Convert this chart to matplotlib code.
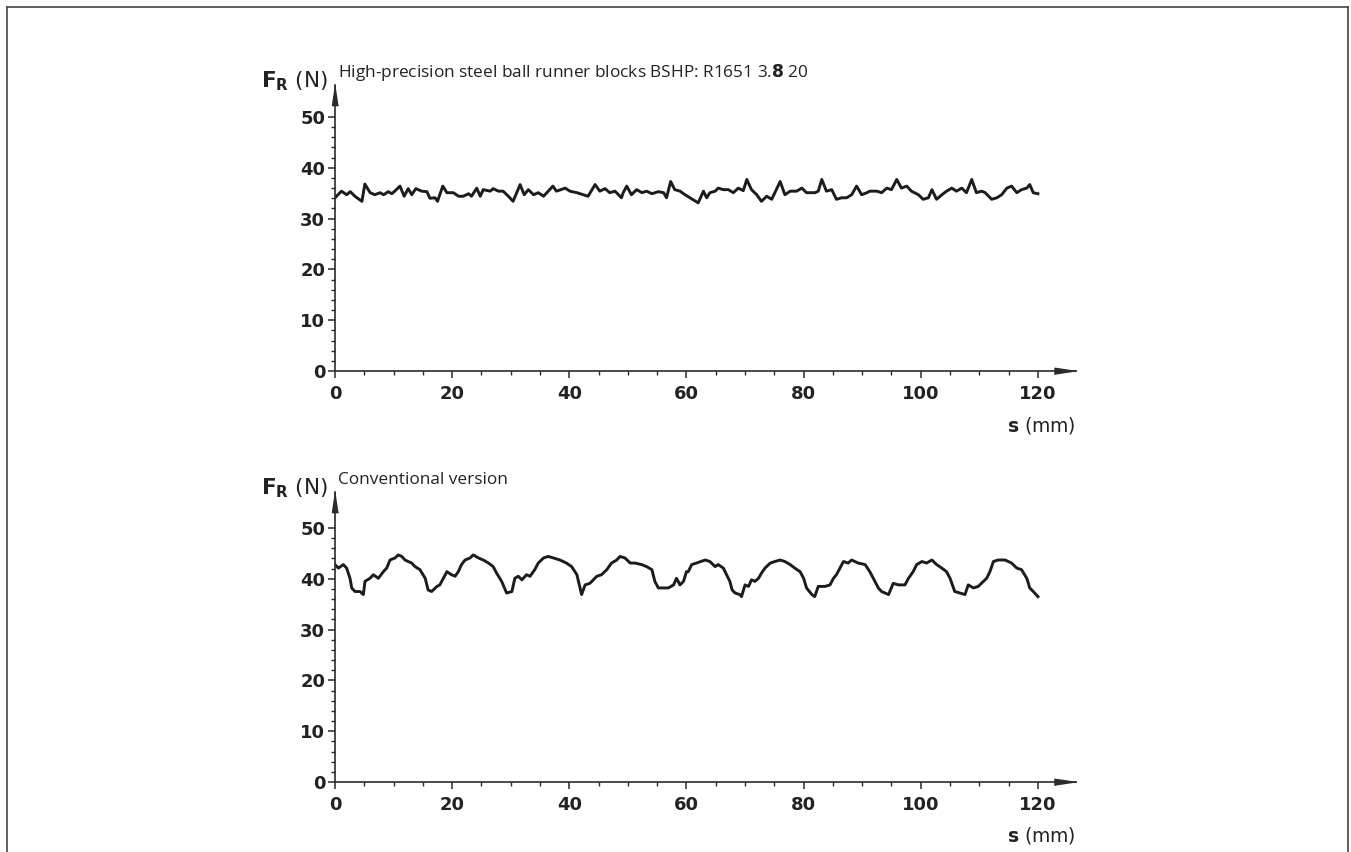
import matplotlib.pyplot as plt
from matplotlib.lines import Line2D
from matplotlib.ticker import FixedLocator

plt.rcParams['font.family'] = ['DejaVu Sans']
plt.rcParams['mathtext.fontset'] = 'dejavusans'

# data (s in mm, F_R in N)
top_s = [0, 1.1, 2.0, 2.6, 3.4, 4.6, 5.1, 6.0, 6.8, 7.7,
         8.3, 9.1, 9.7, 10.2, 11.1, 11.8, 12.5, 13.1, 13.8, 14.8,
         15.7, 16.2, 17.1, 17.5, 18.4, 19.1, 20.2, 21.1, 21.9, 22.8,
         23.3, 24.2, 24.8, 25.3, 26.5, 27.0, 27.9, 28.7, 29.6, 30.4,
         31.6, 32.3, 33.0, 33.9, 34.7, 35.6, 36.4, 37.2, 37.8, 39.3,
         40.1, 41.3, 42.4, 43.2, 44.4, 45.2, 46.1, 46.9, 47.8, 48.9,
         49.2, 49.8, 50.6, 51.5, 52.4, 53.2, 54.1, 55.2, 56.1, 56.6,
         57.3, 58.0, 58.9, 59.75, 60.6, 62.0, 62.9, 63.45, 64.0, 64.9,
         65.4, 66.3, 67.15, 68.0, 68.85, 69.7, 70.3, 71.1, 72.0, 72.8,
         73.7, 74.55, 76.0, 76.8, 77.7, 78.8, 79.7, 80.5, 81.95, 82.5,
         83.1, 83.9, 84.8, 85.6, 86.5, 87.35, 88.2, 89.05, 89.9, 90.8,
         91.3, 92.5, 93.3, 94.2, 95.0, 95.9, 96.7, 97.6, 98.4, 99.6,
         100.4, 101.3, 101.9, 102.7, 103.6, 104.4, 105.3, 106.1, 107.0, 107.8,
         108.7, 109.5, 110.4, 111.0, 112.1, 113.0, 113.8, 114.7, 115.5, 116.4,
         117.2, 118.1, 118.6, 119.2, 120.0]
top_f = [34.1, 35.4, 34.7, 35.3, 34.4, 33.4, 36.8, 35.1, 34.7, 35.1,
         34.7, 35.3, 34.9, 35.4, 36.4, 34.4, 35.9, 34.7, 35.9, 35.4,
         35.3, 34.0, 34.1, 33.4, 36.4, 35.1, 35.1, 34.4, 34.4, 34.9,
         34.4, 36.0, 34.4, 35.7, 35.4, 35.9, 35.4, 35.4, 34.4, 33.4,
         36.7, 34.7, 35.7, 34.7, 35.1, 34.4, 35.4, 36.4, 35.4, 36.0,
         35.4, 35.1, 34.7, 34.4, 36.7, 35.4, 35.9, 35.1, 35.4, 34.1,
         35.1, 36.4, 34.7, 35.7, 35.1, 35.4, 34.9, 35.3, 35.1, 34.1,
         37.3, 35.7, 35.4, 34.7, 34.1, 33.1, 35.4, 34.1, 35.1, 35.4,
         36.0, 35.7, 35.7, 35.1, 36.0, 35.5, 37.7, 35.7, 34.7, 33.4,
         34.4, 33.8, 37.3, 34.7, 35.4, 35.4, 36.0, 35.1, 35.1, 35.4,
         37.7, 35.4, 35.7, 33.8, 34.1, 34.1, 34.7, 36.4, 34.7, 35.1,
         35.4, 35.4, 35.1, 36.0, 35.7, 37.7, 36.0, 36.4, 35.4, 34.7,
         33.8, 34.1, 35.7, 33.8, 34.7, 35.4, 36.0, 35.4, 36.0, 35.1,
         37.7, 35.1, 35.4, 35.1, 33.8, 34.1, 34.7, 36.0, 36.4, 35.1,
         35.7, 36.0, 36.7, 35.1, 34.9]

bot_s = [0, 0.57, 1.42, 1.99, 2.56, 2.85, 3.41, 4.27, 4.84, 5.12,
         5.97, 6.54, 7.4, 8.25, 8.82, 9.39, 10.24, 10.8, 11.4, 11.95,
         12.5, 13.1, 13.66, 14.5, 15.4, 15.9, 16.5, 17.4, 17.9, 18.5,
         19.1, 19.9, 20.5, 21.05, 21.6, 22.2, 23.05, 23.6, 24.5, 25.3,
         26.2, 27.0, 27.6, 28.45, 29.3, 30.2, 30.7, 31.3, 31.9, 32.7,
         33.3, 34.1, 34.7, 35.6, 36.4, 37.3, 38.4, 39.5, 40.4, 41.3,
         42.1, 42.7, 43.5, 44.7, 45.5, 46.4, 47.2, 48.1, 48.65, 49.5,
         50.4, 51.2, 52.35, 53.2, 54.1, 54.6, 55.2, 56.05, 56.9, 57.8,
         58.3, 58.9, 59.5, 60.0, 60.3, 60.9, 61.7, 63.2, 64.0, 64.9,
         65.4, 66.3, 66.86, 67.4, 67.8, 68.3, 69.1, 69.4, 70.0, 70.6,
         71.1, 71.7, 72.3, 72.8, 73.4, 74.3, 75.1, 76.0, 76.8, 77.7,
         78.5, 79.4, 80.0, 80.5, 81.4, 81.9, 82.5, 83.65, 84.5, 85.1,
         85.6, 86.2, 86.8, 87.6, 88.2, 89.3, 90.5, 91.3, 91.9, 92.75,
         93.3, 94.5, 95.3, 96.2, 97.3, 97.9, 98.7, 99.3, 100.2, 101.0,
         101.9, 102.7, 103.6, 104.4, 105.0, 105.8, 106.7, 107.55, 108.1, 109.0,
         109.8, 110.7, 111.25, 111.8, 112.4, 113.2, 114.4, 115.5, 116.4, 117.2,
         118.1, 118.6, 119.2, 120.0]
bot_f = [42.8, 42.1, 42.8, 42.1, 40.1, 38.2, 37.5, 37.5, 36.9, 39.5,
         40.1, 40.8, 40.1, 41.4, 42.1, 43.7, 44.1, 44.7, 44.4, 43.7,
         43.4, 43.1, 42.4, 41.8, 40.1, 37.8, 37.5, 38.5, 38.8, 40.1,
         41.4, 40.8, 40.5, 41.4, 42.8, 43.7, 44.1, 44.7, 44.1, 43.7,
         43.1, 42.4, 41.1, 39.5, 37.2, 37.5, 40.1, 40.5, 39.8, 40.8,
         40.5, 41.8, 43.1, 44.1, 44.4, 44.1, 43.7, 43.1, 42.4, 40.8,
         36.9, 38.8, 39.1, 40.5, 40.8, 41.8, 43.1, 43.7, 44.4, 44.1,
         43.1, 43.1, 42.8, 42.4, 41.8, 39.5, 38.2, 38.2, 38.2, 38.8,
         40.1, 38.8, 39.5, 41.4, 41.4, 42.8, 43.1, 43.7, 43.4, 42.4,
         42.8, 42.1, 40.8, 39.5, 37.8, 37.2, 36.9, 36.5, 38.8, 38.5,
         39.8, 39.5, 40.1, 41.1, 42.1, 43.1, 43.4, 43.7, 43.4, 42.8,
         42.1, 41.4, 40.1, 38.2, 36.9, 36.5, 38.5, 38.5, 38.8, 40.1,
         40.8, 42.1, 43.4, 43.1, 43.7, 43.1, 42.8, 41.4, 40.1, 38.2,
         37.5, 36.9, 39.1, 38.8, 38.8, 40.1, 41.4, 42.8, 43.4, 43.1,
         43.7, 42.8, 42.1, 41.4, 40.1, 37.5, 37.2, 36.9, 38.8, 38.2,
         38.5, 39.5, 40.1, 41.4, 43.4, 43.7, 43.7, 43.1, 42.1, 41.8,
         40.1, 38.2, 37.5, 36.5]

x_ticks = [0, 20, 40, 60, 80, 100, 120]
y_ticks = [0, 10, 20, 30, 40, 50]
x_minor = [5, 10, 15, 25, 30, 35, 45, 50, 55, 65, 70, 75, 85, 90, 95, 105, 110, 115]
y_minor = [v for v in range(2, 50, 2) if v % 10 != 0]

titles = [r'High-precision steel ball runner blocks BSHP: R1651 3.$\mathbf{8}$ 20',
          'Conventional version']

W, H = 1351, 852
fig = plt.figure(figsize=(W / 100, H / 100), dpi=100)

axes_px = [(371, 85), (782, 492)]  # (zero line, arrow tip) in pixels
data = [(top_s, top_f), (bot_s, bot_f)]

ax_col = '#2b2b2b'
txt_col = '#222222'
for (y0, ytop), (s, f), title in zip(axes_px, data, titles):
    ax = fig.add_axes([335 / W, 1 - y0 / H, 741 / W, (y0 - ytop) / H])
    ax.plot(s, f, color='#1c1c1c', lw=2.1, solid_joinstyle='round')
    ax.set_xlim(0, 126.5)
    ax.set_ylim(0, (y0 - ytop) / 5.08)
    ax.spines[['top', 'right']].set_visible(False)
    for sp in ['left', 'bottom']:
        ax.spines[sp].set_linewidth(1.2)
        ax.spines[sp].set_color(ax_col)
    ax.set_xticks(x_ticks)
    ax.set_yticks(y_ticks)
    ax.xaxis.set_minor_locator(FixedLocator(x_minor))
    ax.yaxis.set_minor_locator(FixedLocator(y_minor))
    ax.tick_params(which='major', length=5, width=1.1, color=ax_col,
                   labelsize=13, labelcolor=txt_col)
    ax.tick_params(which='minor', length=3, width=1.0, color=ax_col)
    ax.tick_params(axis='x', pad=5)
    ax.tick_params(axis='y', pad=2)
    for lab in ax.get_xticklabels() + ax.get_yticklabels():
        lab.set_fontweight('bold')

    # arrow heads
    ax.plot(1, 0, marker=[(0, 0), (-1, 0.15), (-1, -0.15)], ms=31,
            color=ax_col, transform=ax.transAxes, clip_on=False)
    ax.plot(0, 1, marker=[(0, 0), (-0.15, -1), (0.15, -1)], ms=29,
            color=ax_col, transform=ax.transAxes, clip_on=False)

    fig.text(328 / W, 1 - (ytop + 2) / H, r'$\mathbf{F_R}$ (N)', fontsize=15.5,
             ha='right', va='baseline', color=txt_col)
    fig.text(338 / W, 1 - (ytop - 8) / H, title, fontsize=12.4, family='Open Sans',
             ha='left', va='baseline', color=txt_col)
    fig.text(1076 / W, 1 - (y0 + 60) / H, r'$\mathbf{s}$ (mm)', fontsize=13.5,
             ha='right', va='baseline', color=txt_col)

# frame
for xs, ys in [([7, 7], [H, 7]), ([7, 1348], [7, 7]), ([1348, 1348], [7, H])]:
    fig.add_artist(Line2D([v / W for v in xs], [1 - v / H for v in ys],
                          transform=fig.transFigure, color='#444444', lw=1.2))

fig.savefig('out.png', dpi=100)
